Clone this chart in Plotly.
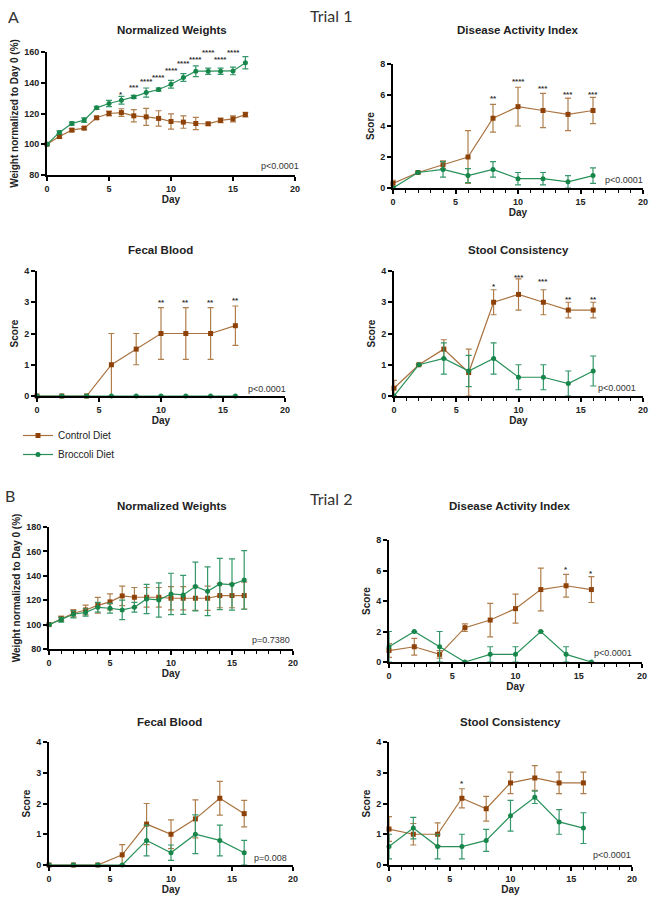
import plotly.graph_objects as go

# days sampled
days_weight = list(range(17))
days_score = [0, 2, 4, 6, 8, 10, 12, 14, 16]

# ---- Trial 1 ----
t1_weight_ctrl = [100, 105, 109.2, 110.5, 117.2, 120, 120.6, 118.5, 117.8, 116.8, 114.8, 114.4, 113.5, 113.3, 115.5, 116.5, 119.3]
t1_weight_ctrl_err = [0.5, 1, 1, 1, 1, 1.5, 2.5, 4, 5.5, 5, 5, 4, 4, 1, 1.5, 2, 1.5]
t1_weight_broc = [100, 107.7, 113.5, 115.7, 123.7, 126.5, 128.6, 130.8, 133.6, 135.6, 139, 143.4, 147.5, 147.5, 147.5, 147.7, 153]
t1_weight_broc_err = [0.5, 1, 1, 1.5, 1, 2, 2.5, 1, 3, 1, 2.5, 2.5, 3.5, 2, 2, 2.5, 4]
t1_weight_star_x = [6, 7, 8, 9, 10, 11, 12, 13, 14, 15, 16]
t1_weight_star_y = [132.5, 136.6, 141, 143.4, 148, 152.4, 155, 159.6, 155, 159.6, 164.3]
t1_weight_star_txt = ["*", "***", "****", "****", "****", "****", "****", "****", "****", "****", "****"]

t1_dai_ctrl = [0.3, 1.0, 1.5, 2.0, 4.5, 5.25, 5.0, 4.75, 5.0]
t1_dai_ctrl_err = [0.2, 0.05, 0.25, 1.7, 0.9, 1.25, 1.1, 1.05, 0.85]
t1_dai_broc = [0.0, 1.0, 1.2, 0.8, 1.2, 0.6, 0.6, 0.4, 0.8]
t1_dai_broc_err = [0, 0, 0.5, 0.45, 0.5, 0.4, 0.4, 0.4, 0.5]
t1_dai_star_x = [8, 10, 12, 14, 16]
t1_dai_star_y = [5.8, 6.9, 6.45, 6.05, 6.05]
t1_dai_star_txt = ["**", "****", "***", "***", "***"]

t1_fb_ctrl = [0, 0, 0, 1.0, 1.5, 2.0, 2.0, 2.0, 2.25]
t1_fb_ctrl_err = [0, 0, 0, 1.0, 0.5, 0.83, 0.83, 0.83, 0.63]
t1_fb_broc = [0, 0, 0, 0, 0, 0, 0, 0, 0]
t1_fb_broc_err = [0, 0, 0, 0, 0, 0, 0, 0, 0]
t1_fb_star_x = [10, 12, 14, 16]
t1_fb_star_y = [2.98, 2.98, 2.98, 3.05]
t1_fb_star_txt = ["**", "**", "**", "**"]

t1_sc_ctrl = [0.25, 1.0, 1.5, 0.75, 3.0, 3.25, 3.0, 2.75, 2.75]
t1_sc_ctrl_err = [0.25, 0.02, 0.3, 0.75, 0.4, 0.5, 0.4, 0.25, 0.25]
t1_sc_broc = [0.0, 1.0, 1.2, 0.8, 1.2, 0.6, 0.6, 0.4, 0.8]
t1_sc_broc_err = [0, 0, 0.5, 0.5, 0.5, 0.4, 0.4, 0.4, 0.48]
t1_sc_star_x = [8, 10, 12, 14, 16]
t1_sc_star_y = [3.52, 3.8, 3.66, 3.1, 3.1]
t1_sc_star_txt = ["*", "***", "***", "**", "**"]

# ---- Trial 2 ----
t2_weight_ctrl = [100, 104.9, 109.3, 112, 115.8, 118.6, 123.5, 122.4, 122.4, 122.4, 121.6, 121.6, 121.6, 121.6, 123.8, 123.8, 123.8]
t2_weight_ctrl_err = [0.5, 2, 3, 4, 6.5, 6.6, 8, 8, 8, 8, 9.6, 9.6, 10, 10, 10, 10, 11]
t2_weight_broc = [100, 104, 108.5, 110, 114.2, 113.4, 112, 114.2, 121, 120.2, 125.1, 124.3, 131.2, 127.3, 133.3, 132.8, 136.6]
t2_weight_broc_err = [0.5, 2, 3, 3, 4, 4, 8, 4, 12, 14, 17, 16, 20, 20, 21, 21, 24]
t2_weight_star_x = []
t2_weight_star_y = []
t2_weight_star_txt = []

t2_dai_ctrl = [0.75, 1.0, 0.5, 2.25, 2.75, 3.5, 4.75, 5.0, 4.75]
t2_dai_ctrl_err = [0.45, 0.55, 0.25, 0.25, 1.1, 0.95, 1.4, 0.75, 0.85]
t2_dai_broc = [1.0, 2.0, 1.0, 0.0, 0.5, 0.5, 2.0, 0.5, 0.0]
t2_dai_broc_err = [1.0, 0, 1.0, 0, 0.5, 0.5, 0, 0.5, 0]
t2_dai_star_x = [14, 16]
t2_dai_star_y = [6.07, 5.8]
t2_dai_star_txt = ["*", "*"]

t2_fb_ctrl = [0, 0, 0, 0.33, 1.33, 1.0, 1.5, 2.17, 1.67]
t2_fb_ctrl_err = [0, 0, 0, 0.33, 0.67, 0.47, 0.62, 0.55, 0.43]
t2_fb_broc = [0, 0, 0, 0, 0.8, 0.4, 1.0, 0.8, 0.4]
t2_fb_broc_err = [0, 0, 0, 0, 0.5, 0.25, 0.63, 0.5, 0.4]
t2_fb_star_x = []
t2_fb_star_y = []
t2_fb_star_txt = []

t2_sc_ctrl = [1.17, 1.0, 1.0, 2.17, 1.83, 2.67, 2.83, 2.67, 2.67]
t2_sc_ctrl_err = [0.4, 0.35, 0.37, 0.31, 0.4, 0.35, 0.4, 0.35, 0.35]
t2_sc_broc = [0.6, 1.2, 0.6, 0.6, 0.8, 1.6, 2.2, 1.4, 1.2]
t2_sc_broc_err = [0.4, 0.35, 0.4, 0.4, 0.36, 0.5, 0.2, 0.4, 0.5]
t2_sc_star_x = [6]
t2_sc_star_y = [2.65]
t2_sc_star_txt = ["*"]

CTRL_MARK = "#8f4208"
CTRL_LINE = "#a9723f"
CTRL_ERR = "#b07e4c"
BROC_MARK = "#17864a"
BROC_LINE = "#279058"
BROC_ERR = "#35976a"
FONT = "Liberation Sans"

W, H = 651, 900

# panel boxes in pixels: left, right, top, bottom
panels = [
    dict(box=(47, 295, 52, 175), title="Normalized Weights", tx=172, ty=30, days=days_weight,
         ctrl=t1_weight_ctrl, ctrl_err=t1_weight_ctrl_err, broc=t1_weight_broc, broc_err=t1_weight_broc_err,
         sx=t1_weight_star_x, sy=t1_weight_star_y, st=t1_weight_star_txt, yr=[80, 160], dt=20,
         ytitle="Weight normalized to Day 0 (%)", p="p<0.0001", px=1.023, py=0.075, minor=False),
    dict(box=(393, 643, 64, 188), title="Disease Activity Index", tx=518, ty=30, days=days_score,
         ctrl=t1_dai_ctrl, ctrl_err=t1_dai_ctrl_err, broc=t1_dai_broc, broc_err=t1_dai_broc_err,
         sx=t1_dai_star_x, sy=t1_dai_star_y, st=t1_dai_star_txt, yr=[0, 8], dt=2,
         ytitle="Score", p="p<0.0001", px=1.008, py=0.065, minor=True),
    dict(box=(37, 285, 271, 396), title="Fecal Blood", tx=160, ty=250, days=days_score,
         ctrl=t1_fb_ctrl, ctrl_err=t1_fb_ctrl_err, broc=t1_fb_broc, broc_err=t1_fb_broc_err,
         sx=t1_fb_star_x, sy=t1_fb_star_y, st=t1_fb_star_txt, yr=[0, 4], dt=1,
         ytitle="Score", p="p<0.0001", px=1.012, py=0.056, minor=False),
    dict(box=(394, 643, 271, 396), title="Stool Consistency", tx=518, ty=250, days=days_score,
         ctrl=t1_sc_ctrl, ctrl_err=t1_sc_ctrl_err, broc=t1_sc_broc, broc_err=t1_sc_broc_err,
         sx=t1_sc_star_x, sy=t1_sc_star_y, st=t1_sc_star_txt, yr=[0, 4], dt=1,
         ytitle="Score", p="p<0.0001", px=0.98, py=0.064, minor=True),
    dict(box=(49, 293, 527, 649), title="Normalized Weights", tx=172, ty=506, days=days_weight,
         ctrl=t2_weight_ctrl, ctrl_err=t2_weight_ctrl_err, broc=t2_weight_broc, broc_err=t2_weight_broc_err,
         sx=t2_weight_star_x, sy=t2_weight_star_y, st=t2_weight_star_txt, yr=[80, 180], dt=20,
         ytitle="Weight normalized to Day 0 (%)", p="p=0.7380", px=0.996, py=0.074, minor=True),
    dict(box=(389, 642, 540, 662), title="Disease Activity Index", tx=510, ty=506, days=days_score,
         ctrl=t2_dai_ctrl, ctrl_err=t2_dai_ctrl_err, broc=t2_dai_broc, broc_err=t2_dai_broc_err,
         sx=t2_dai_star_x, sy=t2_dai_star_y, st=t2_dai_star_txt, yr=[0, 8], dt=2,
         ytitle="Score", p="p<0.0001", px=0.968, py=0.074, minor=True),
    dict(box=(49, 293, 742, 865), title="Fecal Blood", tx=169, ty=722, days=days_score,
         ctrl=t2_fb_ctrl, ctrl_err=t2_fb_ctrl_err, broc=t2_fb_broc, broc_err=t2_fb_broc_err,
         sx=t2_fb_star_x, sy=t2_fb_star_y, st=t2_fb_star_txt, yr=[0, 4], dt=1,
         ytitle="Score", p="p=0.008", px=0.984, py=0.057, minor=False),
    dict(box=(389, 632, 742, 865), title="Stool Consistency", tx=510, ty=722, days=days_score,
         ctrl=t2_sc_ctrl, ctrl_err=t2_sc_ctrl_err, broc=t2_sc_broc, broc_err=t2_sc_broc_err,
         sx=t2_sc_star_x, sy=t2_sc_star_y, st=t2_sc_star_txt, yr=[0, 4], dt=1,
         ytitle="Score", p="p<0.0001", px=1.004, py=0.081, minor=True),
]

fig = go.Figure()
annotations = []
tickfont = dict(family=FONT, size=9, color="#222", weight="bold")
labelfont = dict(family=FONT, size=10, color="#222", weight="bold")

for i, pnl in enumerate(panels):
    n = "" if i == 0 else str(i + 1)
    xa, ya = "x" + n, "y" + n
    l, r, t, b = pnl["box"]
    for name, ys, err, mc, lc, ec, sym in [
        ("Control Diet", pnl["ctrl"], pnl["ctrl_err"], CTRL_MARK, CTRL_LINE, CTRL_ERR, "square"),
        ("Broccoli Diet", pnl["broc"], pnl["broc_err"], BROC_MARK, BROC_LINE, BROC_ERR, "circle"),
    ]:
        fig.add_trace(go.Scatter(
            x=pnl["days"], y=ys, name=name, mode="lines+markers", xaxis=xa, yaxis=ya,
            line=dict(color=lc, width=1.2), marker=dict(color=mc, size=5, symbol=sym),
            error_y=dict(type="data", array=err, color=ec, thickness=1.2, width=3),
            cliponaxis=False, showlegend=(i == 0),
        ))
    fig.layout["xaxis" + n] = dict(
        domain=[l / W, r / W], anchor=ya, range=[0, 20], dtick=5, tick0=0, automargin=False,
        showline=True, linecolor="black", linewidth=2, ticks="outside", ticklen=4, tickwidth=1.5,
        tickcolor="black", showgrid=False, zeroline=False, tickfont=tickfont,
        title=dict(text="Day", font=labelfont, standoff=0),
        minor=dict(dtick=1, ticks="outside", ticklen=3, tickcolor="black", tickwidth=1.2) if pnl["minor"] else None,
    )
    fig.layout["yaxis" + n] = dict(
        domain=[1 - b / H, 1 - t / H], anchor=xa, range=pnl["yr"], dtick=pnl["dt"], tick0=pnl["yr"][0],
        automargin=False,
        showline=True, linecolor="black", linewidth=2, ticks="outside", ticklen=4, tickwidth=1.5,
        tickcolor="black", showgrid=False, zeroline=False, tickfont=tickfont,
        title=dict(text=pnl["ytitle"], font=labelfont, standoff=4),
    )
    annotations.append(dict(x=pnl["tx"] / W, y=1 - pnl["ty"] / H, xref="paper", yref="paper",
                            text=pnl["title"], showarrow=False, xanchor="center", yanchor="middle",
                            font=dict(family=FONT, size=11.5, color="#222", weight="bold")))
    annotations.append(dict(x=pnl["px"], y=pnl["py"], xref=xa + " domain", yref=ya + " domain",
                            text=pnl["p"], showarrow=False, xanchor="right", yanchor="middle",
                            font=dict(family=FONT, size=9, color="#333")))
    for sx, sy, st in zip(pnl["sx"], pnl["sy"], pnl["st"]):
        annotations.append(dict(x=sx, y=sy, xref=xa, yref=ya, text=st, showarrow=False,
                                xanchor="center", yanchor="middle",
                                font=dict(family=FONT, size=8, color="#333", weight="bold")))

for txt, x, y, size, anchor in [("A", 6, 17, 16, "left"), ("B", 3, 495, 16, "left"),
                                ("Trial 1", 331, 15, 16, "center"), ("Trial 2", 331, 498, 16, "center")]:
    annotations.append(dict(x=x / W, y=1 - y / H, xref="paper", yref="paper", text=txt, showarrow=False,
                            xanchor=anchor, yanchor="middle", font=dict(family="Lato", size=size, color="#333")))

fig.update_layout(
    width=W, height=H, margin=dict(l=0, r=0, t=0, b=0, autoexpand=False),
    paper_bgcolor="white", plot_bgcolor="white",
    annotations=annotations,
    legend=dict(x=18 / W, y=1 - 421 / H, xanchor="left", yanchor="top", bgcolor="rgba(0,0,0,0)",
                font=dict(family=FONT, size=10, color="#222"), itemwidth=30, tracegroupgap=0),
)

# page body has a default 8px margin; drop it so the figure sits at the corner
fig.write_html("out.html", config={"displayModeBar": False},
               post_script="document.body.style.margin='0';")
